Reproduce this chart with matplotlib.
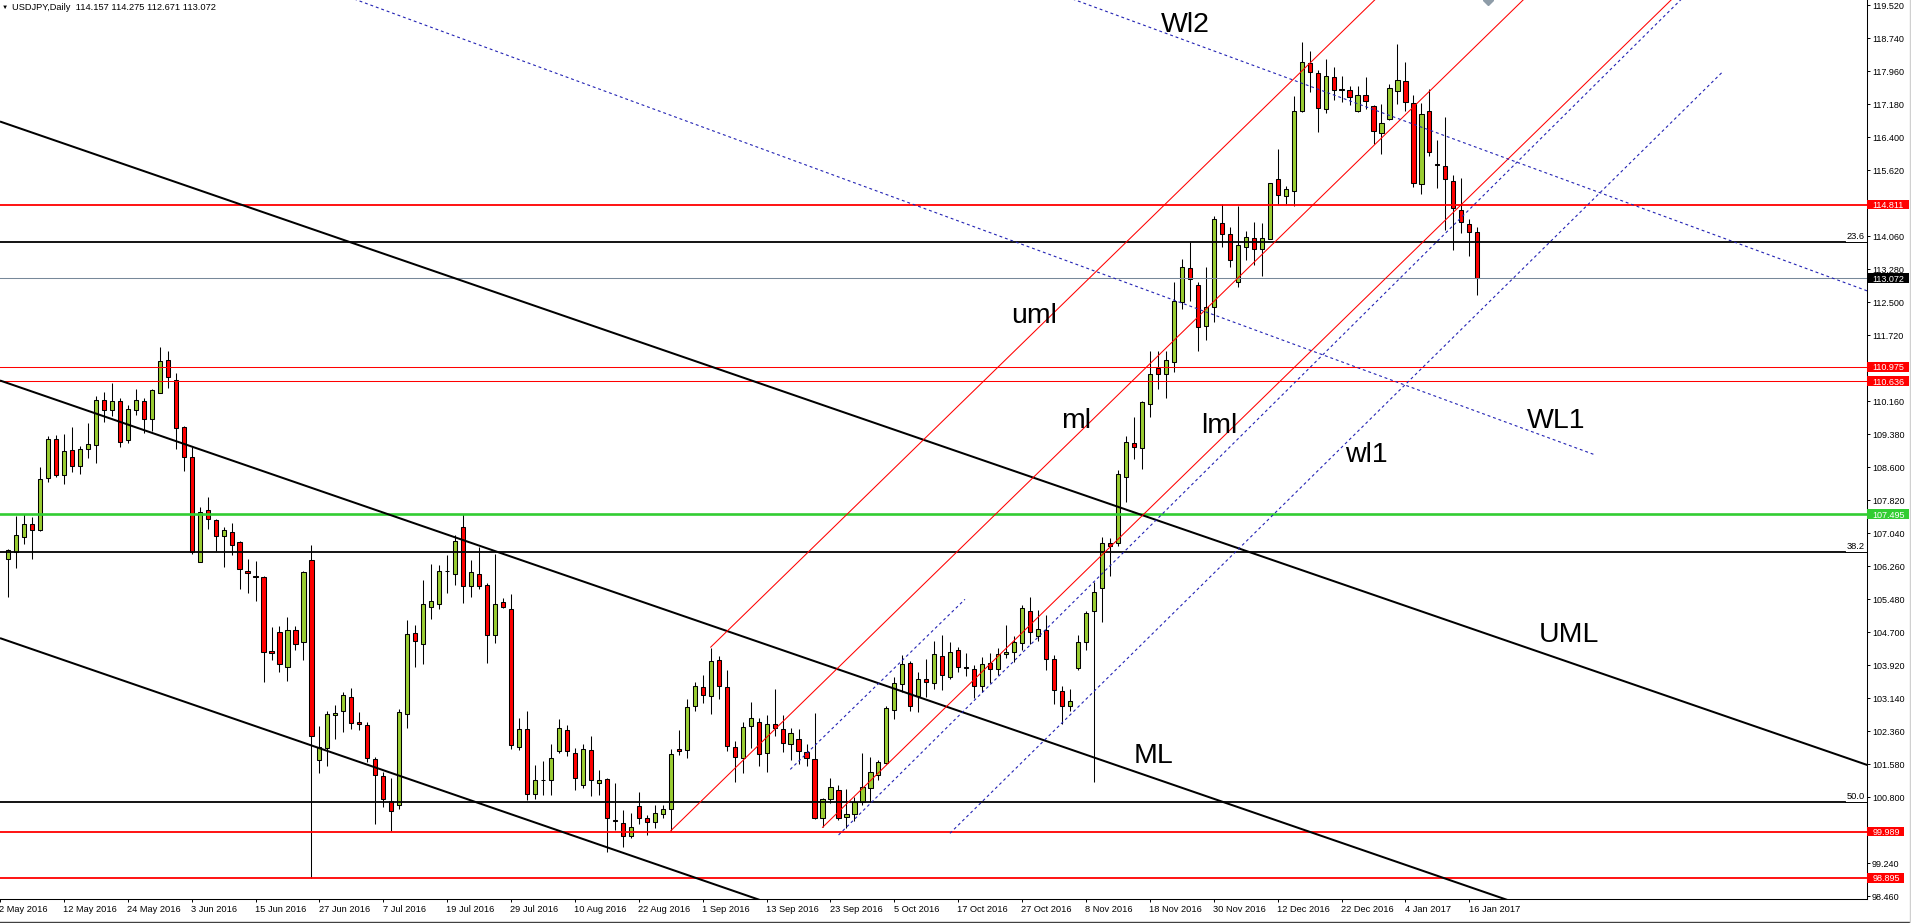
import numpy as np
import matplotlib
matplotlib.use("Agg")
import matplotlib.pyplot as plt
from matplotlib.patches import Rectangle
from matplotlib.lines import Line2D

plt.rcParams['font.family'] = ['Liberation Sans', 'DejaVu Sans']

# ---- data --------------------------------------------------------------
# daily bars; bar 0 = 2 May 2016 (just off the left edge), first drawn bar = 3 May 2016
opens = [
    106.43, 106.61, 106.96, 107.25, 107.13, 108.35, 109.26, 108.41, 109.00, 108.62,
    109.03, 109.12, 110.18, 109.95, 110.17, 109.25, 109.95, 110.17, 109.75, 110.35,
    111.13, 110.66, 109.55, 108.84, 106.36, 107.58, 107.35, 106.97, 107.06, 106.84,
    106.15, 106.02, 106.00, 104.25, 104.70, 103.87, 104.75, 104.48, 106.41, 101.68,
    101.96, 102.74, 102.83, 103.16, 102.58, 102.50, 101.71, 101.30, 100.72, 100.61,
    102.77, 104.69, 104.42, 105.31, 105.36, 106.14, 106.09, 107.18, 105.80, 106.07,
    105.81, 104.64, 105.41, 105.26, 102.00, 102.41, 100.88, 101.21, 101.20, 101.89,
    102.38, 101.84, 101.08, 101.93, 101.13, 101.24, 100.27, 100.20, 99.89, 100.59,
    100.30, 100.21, 100.40, 100.52, 101.94, 101.92, 102.96, 103.40, 103.19, 104.04,
    103.40, 102.00, 101.72, 102.49, 102.57, 101.84, 102.54, 102.41, 102.06, 102.17,
    101.88, 101.70, 100.31, 100.75, 100.97, 100.33, 100.40, 100.68, 101.01, 101.33,
    101.61, 102.87, 103.47, 103.97, 103.20, 103.60, 103.50, 104.15, 103.65, 104.29,
    103.87, 103.83, 103.43, 103.97, 103.83, 104.18, 104.23, 104.44, 105.21, 104.62,
    104.75, 104.06, 103.32, 102.96, 103.85, 104.48, 105.21, 105.74, 106.81, 106.81,
    108.38, 109.17, 109.06, 110.10, 110.94, 110.80, 111.08, 112.50, 113.30, 112.90,
    111.95, 112.38, 114.38, 114.11, 112.97, 113.80, 114.02, 113.75, 114.00, 115.41,
    115.02, 115.14, 117.01, 118.15, 117.92, 117.06, 117.82, 117.54, 117.51, 117.03,
    117.41, 117.13, 116.49, 116.84, 117.50, 117.72, 117.20, 115.30, 117.01, 115.76,
    115.73, 115.37, 114.67, 114.36, 114.157]
highs = [
    106.66, 107.45, 107.50, 107.42, 108.60, 109.35, 109.36, 109.39, 109.55, 109.10,
    109.64, 110.29, 110.39, 110.60, 110.25, 110.07, 110.44, 110.23, 110.44, 111.45,
    111.35, 110.83, 109.58, 109.07, 107.66, 107.90, 107.38, 107.18, 107.29, 106.86,
    106.43, 106.39, 106.02, 104.83, 104.85, 105.06, 104.85, 106.15, 106.77, 102.48,
    102.84, 102.98, 103.29, 103.38, 102.82, 102.58, 101.76, 101.41, 101.25, 102.89,
    104.99, 104.87, 105.94, 106.31, 106.29, 106.53, 107.00, 107.50, 106.41, 106.72,
    105.87, 106.55, 105.50, 105.60, 102.67, 102.83, 101.56, 101.66, 102.05, 102.65,
    102.52, 101.96, 102.06, 102.26, 101.44, 101.26, 101.15, 100.50, 100.44, 100.92,
    100.38, 100.61, 100.63, 101.94, 102.39, 103.12, 103.52, 103.69, 104.34, 104.13,
    103.81, 102.12, 102.59, 103.05, 102.67, 102.74, 103.35, 102.74, 102.43, 102.42,
    102.05, 102.79, 100.78, 101.25, 101.09, 100.99, 100.80, 101.84, 101.76, 101.68,
    102.96, 103.65, 104.17, 104.02, 103.77, 104.06, 104.50, 104.64, 104.48, 104.36,
    104.21, 103.93, 104.11, 104.22, 104.32, 104.87, 104.61, 105.35, 105.53, 105.23,
    105.11, 104.17, 103.44, 103.35, 104.64, 105.21, 105.90, 106.95, 106.92, 108.54,
    109.35, 109.78, 110.16, 111.36, 111.36, 111.34, 112.97, 113.53, 113.92, 112.97,
    113.33, 114.54, 114.82, 114.27, 114.78, 114.19, 114.39, 114.38, 115.33, 116.13,
    115.25, 117.37, 118.66, 118.43, 117.99, 118.24, 118.06, 117.86, 117.61, 117.61,
    117.82, 117.16, 117.19, 117.65, 118.60, 118.17, 117.41, 117.20, 117.54, 116.33,
    116.87, 115.50, 115.44, 114.46, 114.275]
lows = [
    105.54, 106.23, 106.79, 106.43, 107.10, 108.26, 108.37, 108.21, 108.50, 108.44,
    108.81, 108.71, 109.68, 109.81, 109.09, 109.17, 109.83, 109.40, 109.47, 110.35,
    110.48, 109.04, 108.52, 106.54, 106.36, 107.15, 106.62, 106.25, 106.53, 105.73,
    105.62, 105.43, 103.53, 104.05, 103.77, 103.56, 104.28, 104.05, 98.90, 101.38,
    101.55, 102.17, 102.35, 102.41, 102.39, 101.63, 100.18, 100.58, 100.01, 100.52,
    102.45, 103.89, 103.95, 105.02, 105.26, 105.64, 105.83, 105.40, 105.53, 105.73,
    103.98, 104.45, 105.27, 101.95, 101.93, 100.74, 100.75, 100.85, 100.85, 101.85,
    101.78, 100.97, 101.01, 100.83, 100.85, 99.51, 100.03, 99.63, 99.83, 100.18,
    99.91, 100.07, 100.30, 100.01, 101.80, 101.74, 102.84, 103.04, 102.78, 103.13,
    101.90, 101.17, 101.38, 101.96, 101.55, 101.41, 102.24, 101.88, 101.68, 101.59,
    101.54, 100.28, 100.09, 100.66, 100.27, 100.07, 100.24, 100.62, 100.68, 101.20,
    101.59, 102.65, 103.30, 102.85, 102.81, 103.17, 103.35, 103.34, 103.59, 103.77,
    103.67, 103.14, 103.30, 103.50, 103.69, 104.09, 104.01, 104.28, 104.43, 104.50,
    103.81, 103.01, 102.53, 102.83, 103.81, 104.28, 101.17, 104.95, 106.02, 106.73,
    107.77, 108.79, 108.55, 109.80, 110.45, 110.25, 110.86, 112.33, 112.53, 111.34,
    111.62, 112.04, 113.81, 113.33, 112.86, 113.50, 113.39, 113.11, 113.99, 114.82,
    114.82, 114.78, 117.00, 117.46, 116.53, 116.98, 117.27, 117.23, 117.16, 116.99,
    117.06, 116.23, 116.00, 116.81, 117.19, 117.02, 115.22, 115.05, 115.95, 115.20,
    114.21, 113.74, 114.14, 113.60, 112.671]
closes = [
    106.65, 106.99, 107.25, 107.13, 108.32, 109.26, 108.43, 108.99, 108.64, 109.03,
    109.14, 110.18, 109.95, 110.17, 109.21, 109.97, 110.18, 109.75, 110.42, 111.11,
    110.73, 109.54, 108.85, 106.59, 107.54, 107.37, 106.97, 107.11, 106.76, 106.19,
    106.10, 106.00, 104.24, 104.20, 103.94, 104.75, 104.42, 106.12, 102.26, 101.98,
    102.76, 102.79, 103.21, 102.55, 102.53, 101.74, 101.32, 100.75, 100.47, 102.81,
    104.67, 104.49, 105.38, 105.43, 106.14, 106.16, 106.87, 105.80, 106.12, 105.79,
    104.63, 105.38, 105.29, 102.03, 102.42, 100.88, 101.22, 101.22, 101.74, 102.43,
    101.89, 101.26, 101.95, 101.22, 101.22, 100.30, 100.23, 99.89, 100.11, 100.30,
    100.22, 100.44, 100.52, 101.82, 101.89, 102.94, 103.42, 103.23, 104.02, 103.43,
    102.02, 101.75, 102.47, 102.67, 101.82, 102.54, 102.43, 102.08, 102.31, 101.90,
    101.72, 100.31, 100.75, 101.05, 100.31, 100.40, 100.70, 101.04, 101.39, 101.63,
    102.91, 103.51, 103.95, 102.96, 103.59, 103.52, 104.18, 103.69, 104.23, 103.89,
    103.86, 103.44, 103.95, 103.83, 104.18, 104.23, 104.47, 105.27, 104.70, 104.77,
    104.06, 103.34, 102.96, 103.08, 104.48, 105.15, 105.66, 106.81, 106.74, 108.44,
    109.19, 109.07, 110.14, 110.81, 110.80, 111.13, 112.52, 113.33, 113.05, 111.91,
    112.38, 114.46, 114.11, 113.50, 113.85, 114.04, 113.75, 114.01, 115.31, 115.03,
    115.17, 117.03, 118.17, 117.94, 117.09, 117.84, 117.52, 117.52, 117.36, 117.41,
    117.25, 116.54, 116.74, 117.57, 117.75, 117.23, 115.33, 116.95, 116.06, 115.74,
    115.41, 114.72, 114.40, 114.17, 113.072]

date_labels = ['2 May 2016', '12 May 2016', '24 May 2016', '3 Jun 2016', '15 Jun 2016',
               '27 Jun 2016', '7 Jul 2016', '19 Jul 2016', '29 Jul 2016', '10 Aug 2016',
               '22 Aug 2016', '1 Sep 2016', '13 Sep 2016', '23 Sep 2016', '5 Oct 2016',
               '17 Oct 2016', '27 Oct 2016', '8 Nov 2016', '18 Nov 2016', '30 Nov 2016',
               '12 Dec 2016', '22 Dec 2016', '4 Jan 2017', '16 Jan 2017']
# scale ticks (the ones hidden under the coloured tags are left out)
price_ticks = [119.52, 118.74, 117.96, 117.18, 116.40, 115.62, 114.06, 113.28,
               112.50, 111.72, 110.16, 109.38, 108.60, 107.82, 107.04, 106.26,
               105.48, 104.70, 103.92, 103.14, 102.36, 101.58, 100.80, 99.24, 98.46]

red_levels_thick = [114.811, 99.989, 98.895]
red_levels_thin = [110.975, 110.636]
green_level = 107.495
last_price = 113.072
fib_levels = [113.93, 106.60, 100.70]
fib_names = ['23.6', '38.2', '50.0']
price_tags = [('114.811', '#ff0000'), ('113.072', '#000000'), ('110.975', '#ff0000'),
              ('110.636', '#ff0000'), ('107.495', '#32cd32'), ('99.989', '#ff0000'),
              ('98.895', '#ff0000')]

# trend objects as (bar, price, bar, price)
black_fork = [(0.0, 116.773, 240.0, 101.163),
              (0.0, 110.652, 240.0, 95.042),
              (0.0, 104.563, 240.0, 88.953)]
red_fork = [(89.0, 104.35, 180.0, 121.09),
            (84.0, 100.01, 200.0, 121.35),
            (103.0, 100.09, 215.0, 120.70)]
blue_up = [(98.96, 101.46, 120.84, 105.48),
           (105.01, 99.91, 214.0, 120.31),
           (118.96, 99.95, 215.84, 117.97)]
blue_down = [(40.0, 119.97, 199.8, 108.89),
             (125.0, 120.314, 240.0, 112.342)]
fork_labels = [('Wl2', 145.38, 118.90), ('uml', 126.66, 112.00), ('ml', 132.84, 109.54),
               ('lml', 150.39, 109.42), ('wl1', 168.43, 108.73), ('WL1', 191.16, 109.54),
               ('UML', 192.65, 104.46), ('ML', 141.99, 101.62)]
anchor_mark = (186.3, 119.645)

# ---- figure ---------------------------------------------------------------
W, H = 1911, 923
AX_W, AX_H = 1866.7, 899.3
fig = plt.figure(figsize=(W / 100, H / 100), dpi=100)
fig.patch.set_facecolor('white')
ax = fig.add_axes([0, 1 - AX_H / H, AX_W / W, AX_H / H])
ax.set_xlim(0.425, 233.76)
ax.set_ylim(98.39, 119.645)

# candles
o, hi, lo, c = map(np.array, (opens, highs, lows, closes))
x = np.arange(1, len(c) + 1)
body_col = np.where(c >= o, '#9acd32', '#ff0000')
ax.vlines(x, lo, hi, color='black', lw=0.75, zorder=2)
ax.bar(x, np.abs(c - o), bottom=np.minimum(o, c), width=0.52, color=body_col,
       edgecolor='black', linewidth=0.75, zorder=3)

# horizontal levels
for lev in red_levels_thick:
    ax.axhline(lev, color='#ff0000', lw=1.3, zorder=4)
for lev in red_levels_thin:
    ax.axhline(lev, color='#ff0000', lw=0.75, zorder=4)
ax.axhline(green_level, color='#32cd32', lw=1.9, zorder=4)
ax.axhline(last_price, color='#778899', lw=0.75, zorder=4)
cut = 1845 / AX_W
yt = ax.get_yaxis_transform()
for lev, name in zip(fib_levels, fib_names):
    ax.axhline(lev, xmin=0, xmax=cut, color='black', lw=1.3, zorder=4)
    ax.axhline(lev, xmin=cut, xmax=1, color='black', lw=0.7, zorder=4)
    ax.text(1864.5 / AX_W, lev + 0.025, name, transform=yt, ha='right', va='bottom',
            fontsize=6.7, zorder=6)

# trend lines
for i0, p0, i1, p1 in black_fork:
    ax.plot([i0, i1], [p0, p1], color='black', lw=1.45, zorder=4, solid_capstyle='butt')
for i0, p0, i1, p1 in red_fork:
    ax.plot([i0, i1], [p0, p1], color='#ff0000', lw=0.75, zorder=4)
for i0, p0, i1, p1 in blue_up + blue_down:
    ax.plot([i0, i1], [p0, p1], color='#2323b4', lw=0.8, ls=(0, (2.6, 2.6)), zorder=4)
ax.plot(*anchor_mark, marker='D', ms=5, color='#8e9ca8', zorder=6)

for txt, i, p in fork_labels:
    ax.text(i, p, txt, fontsize=20.5, ha='left', va='baseline', color='black', zorder=6)

# axes styling
for side in ('top', 'left'):
    ax.spines[side].set_visible(False)
for side in ('right', 'bottom'):
    ax.spines[side].set_linewidth(0.75)
    ax.spines[side].set_color('black')
ax.yaxis.tick_right()
ax.set_yticks(price_ticks)
ax.set_yticklabels([f'{t:.3f}' for t in price_ticks])
ax.tick_params(axis='y', direction='out', length=2.5, width=0.7, pad=1.2,
               labelsize=6.5, colors='black')
ax.set_xticks(np.arange(0, 8 * len(date_labels), 8))
ax.set_xticklabels([])
ax.tick_params(axis='x', direction='out', length=2.4, width=0.7)
xt = ax.get_xaxis_transform()
for k, lab in enumerate(date_labels):
    ax.text(8 * k - 0.1, -9.8 / AX_H, lab, transform=xt, ha='left', va='center',
            fontsize=6.7, clip_on=False)

# coloured price tags on the scale
tag_h = 9.6 / AX_H * (119.645 - 98.39)
for (txt, col) in price_tags:
    val = float(txt)
    w = (6.7 + 5.0 * len(txt)) / AX_W
    ax.add_patch(Rectangle((1 + 0.6 / AX_W, val - tag_h / 2), w, tag_h, transform=yt,
                           facecolor=col, edgecolor='none', clip_on=False, zorder=7))
    ax.text(1 + 5.6 / AX_W, val, txt, transform=yt, color='white', fontsize=6.5,
            ha='left', va='center_baseline', clip_on=False, zorder=8)

# header
fig.text(1.5 / W, 1 - 7 / H, '\u25bc', fontsize=4.5, ha='left', va='center')
fig.text(11.7 / W, 1 - 7 / H, 'USDJPY,Daily  114.157 114.275 112.671 113.072',
         fontsize=6.7, ha='left', va='center')

# window frame
fig.add_artist(Line2D([0, 1], [1.5 / H, 1.5 / H], color='#404040', lw=1.0,
                      transform=fig.transFigure))
fig.add_artist(Line2D([1909.5 / W, 1909.5 / W], [1.5 / H, 1], color='#d0d0d0', lw=1.0,
                      transform=fig.transFigure))

fig.savefig('out.png', dpi=100)
